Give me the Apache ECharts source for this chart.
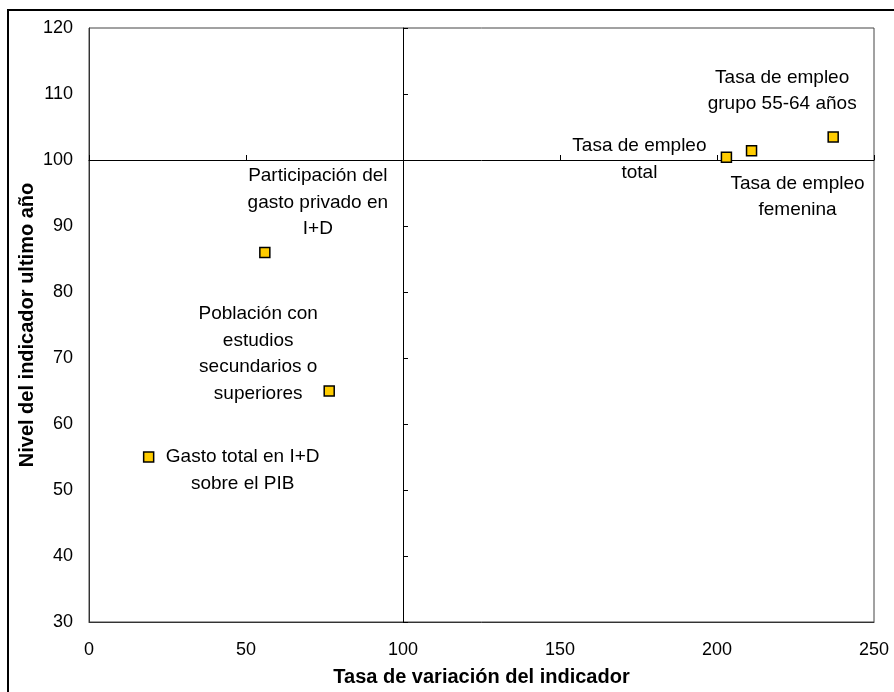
<!DOCTYPE html>
<html>
<head>
<meta charset="utf-8">
<script src="https://cdn.jsdelivr.net/npm/echarts@6.0.0/dist/echarts.min.js"></script>
<style>
html,body{margin:0;padding:0;background:#fff;}
#chart{width:894px;height:692px;}
</style>
</head>
<body>
<div id="chart"></div>
<script>
// ---- data ----
const pointNames = [
  'Gasto total en I+D\nsobre el PIB',
  'Participación del\ngasto privado en\nI+D',
  'Población con\nestudios\nsecundarios o\nsuperiores',
  'Tasa de empleo\ntotal',
  'Tasa de empleo\nfemenina',
  'Tasa de empleo\ngrupo 55-64 años'
];
const xValues = [19, 56, 76.5, 203, 211, 237];
const yValues = [55, 86, 65, 100.4, 101.4, 103.5];
const xAxisName = 'Tasa de variación del indicador';
const yAxisName = 'Nivel del indicador ultimo año';
const xRange = [0, 250], xStep = 50;
const yRange = [30, 120], yStep = 10;
const crossX = 100, crossY = 100;

// ---- styles / label placement (pixels relative to the marker) ----
const labelOffsets = [[94, 13.5], [53, -50], [-71, -37], [-87, 2], [46, 46], [-51, -46]];

const FONT = "'Liberation Sans', Arial, sans-serif";
const W = 894, H = 692;
const grid = { left: 89, top: 28, right: 20, bottom: 70 };
const gw = W - grid.left - grid.right;
const gh = H - grid.top - grid.bottom;

const chart = echarts.init(document.getElementById('chart'), null, { renderer: 'canvas', width: W, height: H });

const data = xValues.map((x, i) => ({
  name: pointNames[i],
  value: [x, yValues[i]],
  label: { show: true, offset: labelOffsets[i] }
}));

const option = {
  backgroundColor: '#fff',
  animation: false,
  textStyle: { fontFamily: FONT },
  grid: {
    left: grid.left, top: grid.top, right: grid.right, bottom: grid.bottom,
    outerBoundsMode: 'none', containLabel: false,
    show: true, borderColor: '#444', borderWidth: 1, backgroundColor: 'transparent'
  },
  graphic: [{
    type: 'rect', silent: true, z: 100,
    shape: { x: 8, y: 10, width: 900, height: 700 },
    style: { fill: 'none', stroke: '#000', lineWidth: 2 }
  }],
  xAxis: [{
    type: 'value', min: xRange[0], max: xRange[1], interval: xStep, position: 'bottom',
    axisLine: { show: true, lineStyle: { color: '#333', width: 1 } },
    axisTick: { show: false },
    splitLine: { show: false },
    axisLabel: { fontSize: 18, color: '#000', margin: 19, fontFamily: FONT },
    name: xAxisName, nameLocation: 'middle', nameGap: 45, nameMoveOverlap: false,
    nameTextStyle: { fontSize: 20, fontWeight: 'bold', color: '#000', fontFamily: FONT }
  }, {
    type: 'value', min: xRange[0], max: xRange[1], interval: xStep, position: 'bottom',
    offset: -gh * (crossY - yRange[0]) / (yRange[1] - yRange[0]),
    axisLine: { show: true, onZero: false, lineStyle: { color: '#000', width: 1 } },
    axisTick: { show: true, inside: true, length: 5, lineStyle: { color: '#000' } },
    axisLabel: { show: false },
    splitLine: { show: false }
  }],
  yAxis: [{
    type: 'value', min: yRange[0], max: yRange[1], interval: yStep, position: 'left',
    axisLine: { show: true, lineStyle: { color: '#333', width: 1 } },
    axisTick: { show: false },
    splitLine: { show: false },
    axisLabel: { fontSize: 18, color: '#000', margin: 16, fontFamily: FONT },
    name: yAxisName, nameLocation: 'middle', nameGap: 52, nameRotate: 90, nameMoveOverlap: false,
    nameTextStyle: { fontSize: 20, fontWeight: 'bold', color: '#000', fontFamily: FONT }
  }, {
    type: 'value', min: yRange[0], max: yRange[1], interval: yStep, position: 'left',
    offset: -gw * (crossX - xRange[0]) / (xRange[1] - xRange[0]),
    axisLine: { show: true, onZero: false, lineStyle: { color: '#000', width: 1 } },
    axisTick: { show: true, inside: true, length: 5, lineStyle: { color: '#000' } },
    axisLabel: { show: false },
    splitLine: { show: false }
  }],
  series: [{
    type: 'scatter', xAxisIndex: 0, yAxisIndex: 0,
    symbol: 'rect', symbolSize: 10,
    itemStyle: { color: '#FFCC00', borderColor: '#000', borderWidth: 1.5, opacity: 1 },
    label: {
      show: true, position: 'inside', formatter: '{b}',
      color: '#000', fontSize: 19, lineHeight: 26.5, align: 'center', verticalAlign: 'middle',
      fontFamily: FONT
    },
    data: data,
    z: 10
  }]
};
chart.setOption(option);
</script>
</body>
</html>
